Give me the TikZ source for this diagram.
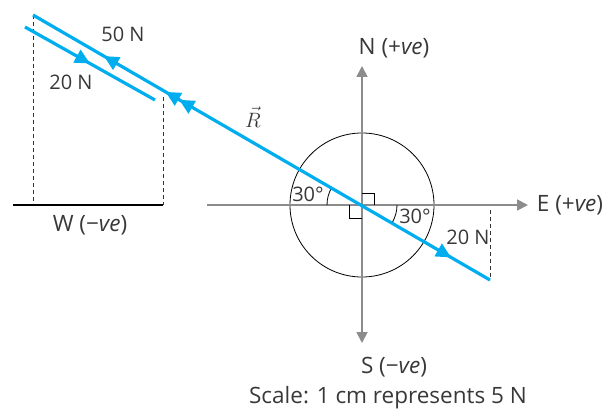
\documentclass[tikz,border=0pt]{standalone}
\usepackage{fontspec}
\setmainfont{Open Sans}
\usetikzlibrary{arrows.meta,decorations.markings}
\definecolor{vblue}{HTML}{00AEEF}
\definecolor{axgrey}{HTML}{8C8C8C}
\definecolor{txt}{HTML}{383838}
\begin{document}
\begin{tikzpicture}[x=1pt,y=-1pt,
  lbl/.style={text=txt,font=\fontsize{22.5}{26}\selectfont,inner sep=0pt},
  slbl/.style={text=txt,font=\fontsize{20}{24}\selectfont,inner sep=0pt},
  vec/.style={vblue,line width=3.2pt},
  axis/.style={axgrey,line width=1.8pt,-{Triangle[length=11pt,width=11pt]}},
  dsh/.style={black!80,line width=0.9pt,dash pattern=on 4pt off 3pt},
  thin/.style={black,line width=0.8pt},
  fwd/.style={postaction={decorate,decoration={markings,mark=at position #1 with {\arrow{Triangle[length=15pt,width=14pt]}}}}},
  bwd/.style={postaction={decorate,decoration={markings,mark=at position #1 with {\arrowreversed{Triangle[length=15pt,width=14pt]}}}}}
]
\useasboundingbox (0,0) rectangle (611,412);
% key points
\coordinate (O) at (362,205);
\coordinate (A) at (33,15);
\coordinate (B) at (490,280);
\coordinate (C) at (25,27);
\coordinate (D) at (155,100);
\coordinate (P) at (163,97);
\coordinate (Wl) at (13,205);
\coordinate (Wr) at (163,205);
\coordinate (Al) at (33,205);
\coordinate (Xl) at (207,205);
\coordinate (Xr) at (528,205);
\coordinate (Yt) at (362,66);
\coordinate (Yb) at (362,343);
\coordinate (Bt) at (490,210);
% circle
\draw[thin] (O) circle[radius=72];
% axes
\draw[axis] (Xl) -- (Xr);
\draw[axis] (O) -- (Yt);
\draw[axis] (O) -- (Yb);
% right-angle marks
\draw[thin] (362,193) -- (374,193) -- (374,205);
\draw[thin] (349,205) -- (349,218) -- (362,218);
% angle arcs (y axis points down)
\draw[thin] (O) ++(-150:35) arc[start angle=-150,end angle=-180,radius=35];
\draw[thin] (O) ++(30:35) arc[start angle=30,end angle=0,radius=35];
% dashed
\draw[dsh] (A) -- (Al);
\draw[dsh] (P) -- (Wr);
\draw[dsh] (Bt) -- (B);
% W line
\draw[black,line width=2.2pt] (Wl) -- (Wr);
% vectors
\draw[vec,bwd=0.155,bwd=0.29,bwd=0.32,fwd=0.915] (A) -- (B);
\draw[vec,fwd=0.5] (C) -- (D);
% labels
\node[slbl] (l50) at (123,34) {50 N};
\node[slbl] (l20a) at (71,82) {20 N};
\node[lbl] (lW) at (90,225) {W (−\textit{ve})};
\node[text=txt,inner sep=0pt,font=\fontsize{20}{24}\selectfont] (lR) at (253,117) {$\vec{R}$};
\node[lbl] (lN) at (394,48) {N (+\textit{ve})};
\node[lbl] (lE) at (570,205) {E (+\textit{ve})};
\node[lbl] (lS) at (394,367) {S (−\textit{ve})};
\node[lbl] (lSc) at (388,398) {Scale: 1 cm represents 5 N};
\node[slbl] (a1) at (308,194) {30°};
\node[slbl] (a2) at (415,216) {30°};
\node[slbl] (l20b) at (468,237) {20 N};
\end{tikzpicture}
\end{document}
